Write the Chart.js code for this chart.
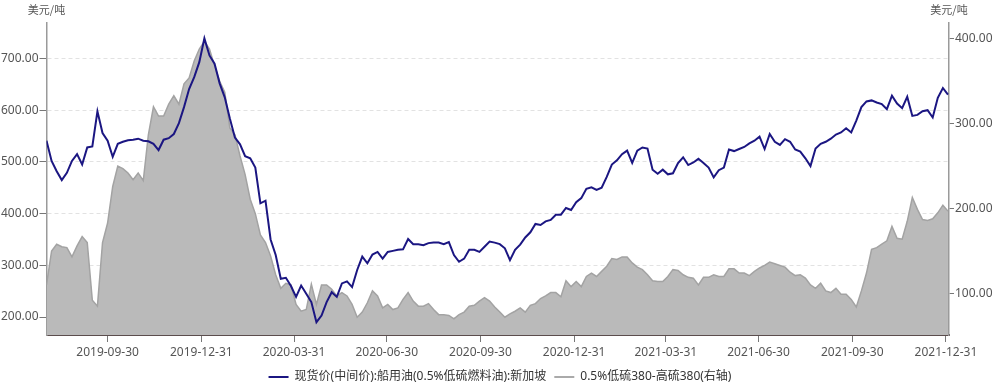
<!DOCTYPE html>
<html>
<head>
<meta charset="utf-8">
<script src="https://cdn.jsdelivr.net/npm/chart.js@4.4.0/dist/chart.umd.min.js"></script>
<style>
  html, body { margin: 0; padding: 0; background: #fff; }
  #wrap { width: 1000px; height: 385px; }
</style>
</head>
<body>
<div id="wrap"><canvas id="chart" width="1000" height="385"></canvas></div>
<script>
// dates, every 5 days
const dates = [
  '2019-08-01','2019-08-06','2019-08-11','2019-08-16','2019-08-21','2019-08-26','2019-08-31','2019-09-05','2019-09-10','2019-09-15',
  '2019-09-20','2019-09-25','2019-09-30','2019-10-05','2019-10-10','2019-10-15','2019-10-20','2019-10-25','2019-10-30','2019-11-04',
  '2019-11-09','2019-11-14','2019-11-19','2019-11-24','2019-11-29','2019-12-04','2019-12-09','2019-12-14','2019-12-19','2019-12-24',
  '2019-12-29','2020-01-03','2020-01-08','2020-01-13','2020-01-18','2020-01-23','2020-01-28','2020-02-02','2020-02-07','2020-02-12',
  '2020-02-17','2020-02-22','2020-02-27','2020-03-03','2020-03-08','2020-03-13','2020-03-18','2020-03-23','2020-03-28','2020-04-02',
  '2020-04-07','2020-04-12','2020-04-17','2020-04-22','2020-04-27','2020-05-02','2020-05-07','2020-05-12','2020-05-17','2020-05-22',
  '2020-05-27','2020-06-01','2020-06-06','2020-06-11','2020-06-16','2020-06-21','2020-06-26','2020-07-01','2020-07-06','2020-07-11',
  '2020-07-16','2020-07-21','2020-07-26','2020-07-31','2020-08-05','2020-08-10','2020-08-15','2020-08-20','2020-08-25','2020-08-30',
  '2020-09-04','2020-09-09','2020-09-14','2020-09-19','2020-09-24','2020-09-29','2020-10-04','2020-10-09','2020-10-14','2020-10-19',
  '2020-10-24','2020-10-29','2020-11-03','2020-11-08','2020-11-13','2020-11-18','2020-11-23','2020-11-28','2020-12-03','2020-12-08',
  '2020-12-13','2020-12-18','2020-12-23','2020-12-28','2021-01-02','2021-01-07','2021-01-12','2021-01-17','2021-01-22','2021-01-27',
  '2021-02-01','2021-02-06','2021-02-11','2021-02-16','2021-02-21','2021-02-26','2021-03-03','2021-03-08','2021-03-13','2021-03-18',
  '2021-03-23','2021-03-28','2021-04-02','2021-04-07','2021-04-12','2021-04-17','2021-04-22','2021-04-27','2021-05-02','2021-05-07',
  '2021-05-12','2021-05-17','2021-05-22','2021-05-27','2021-06-01','2021-06-06','2021-06-11','2021-06-16','2021-06-21','2021-06-26',
  '2021-07-01','2021-07-06','2021-07-11','2021-07-16','2021-07-21','2021-07-26','2021-07-31','2021-08-05','2021-08-10','2021-08-15',
  '2021-08-20','2021-08-25','2021-08-30','2021-09-04','2021-09-09','2021-09-14','2021-09-19','2021-09-24','2021-09-29','2021-10-04',
  '2021-10-09','2021-10-14','2021-10-19','2021-10-24','2021-10-29','2021-11-03','2021-11-08','2021-11-13','2021-11-18','2021-11-23',
  '2021-11-28','2021-12-03','2021-12-08','2021-12-13','2021-12-18','2021-12-23','2021-12-28','2022-01-02'
];

// 现货价 新加坡 0.5%低硫燃料油 (左轴)
const spotPrice = [
  541,502,482,465,479,502,515,495,528,530,
  598,556,541,510,535,539,542,543,545,541,
  540,535,523,543,546,554,575,606,641,664,
  693,739,706,690,652,625,584,547,534,511,
  507,489,420,425,350,320,274,276,260,239,
  261,245,229,190,203,229,248,239,265,269,
  258,291,317,304,321,326,313,326,328,330,
  331,351,341,341,339,343,344,344,341,345,
  320,307,313,330,330,326,336,346,344,341,
  333,310,330,340,354,364,380,378,385,388,
  398,398,411,407,422,430,448,451,446,450,
  471,495,503,515,522,498,522,528,526,485,
  477,485,476,478,498,509,494,499,506,498,
  489,470,484,489,524,521,525,529,536,541,
  549,525,554,539,533,544,539,524,520,507,
  492,526,535,539,545,553,557,565,557,580,
  606,617,619,615,612,602,628,613,604,626,
  589,591,598,600,586,624,643,630
];

// 0.5%低硫380-高硫380 价差 (右轴)
const spread = [
  110,150,158,155,154,143,156,167,160,92,
  85,160,183,226,250,247,242,234,242,233,
  287,320,309,309,323,333,323,347,354,374,
  388,397,388,368,350,337,295,287,262,240,
  211,194,169,160,144,122,106,112,110,87,
  79,81,111,87,110,110,105,97,101,97,
  87,72,78,89,103,97,83,87,81,83,
  93,101,91,85,85,88,81,75,75,74,
  70,75,78,85,86,91,95,91,84,78,
  72,76,79,83,78,86,88,94,97,101,
  101,96,115,108,114,108,120,124,120,126,
  132,141,140,143,143,136,131,128,122,115,
  114,114,120,128,127,122,119,118,110,119,
  119,122,120,120,129,129,124,124,121,126,
  130,133,137,135,133,131,125,121,122,118,
  110,106,112,103,101,106,99,99,93,84,
  103,124,152,154,158,162,179,165,164,185,
  213,199,187,186,188,195,204,197
];

const xTickDates = ['2019-09-30','2019-12-31','2020-03-31','2020-06-30','2020-09-30',
  '2020-12-31','2021-03-31','2021-06-30','2021-09-30','2021-12-31'];
const leftTicks = [200, 300, 400, 500, 600, 700];
const rightTicks = [100, 200, 300, 400];
const seriesNames = ['现货价(中间价):船用油(0.5%低硫燃料油):新加坡', '0.5%低硫380-高硫380(右轴)'];
const unitLabel = '美元/吨';

const BLUE = '#1b1682';
const GRAY_LINE = '#a3a3a3';
const GRAY_FILL = '#bababa';

Chart.defaults.font.family = '"Noto Sans", "Noto Sans CJK SC", sans-serif';
Chart.defaults.font.size = 12;
Chart.defaults.color = '#555';

const toPoints = vals => vals.map((v, i) => ({ x: Date.parse(dates[i]), y: v }));

// 轴单位
const unitPlugin = {
  id: 'unitLabels',
  afterDraw(chart) {
    const { ctx, chartArea } = chart;
    ctx.save();
    ctx.font = '11px "Noto Sans CJK SC"';
    ctx.fillStyle = '#555';
    ctx.textAlign = 'center';
    ctx.textBaseline = 'middle';
    ctx.fillText(unitLabel, chartArea.left, 10);
    ctx.fillText(unitLabel, chartArea.right, 10);
    ctx.restore();
  }
};

const legendColors = [BLUE, '#aaaaaa'];

new Chart(document.getElementById('chart').getContext('2d'), {
  type: 'line',
  data: {
    datasets: [
      {
        label: seriesNames[0],
        data: toPoints(spotPrice),
        yAxisID: 'y',
        borderColor: BLUE,
        backgroundColor: BLUE,
        borderWidth: 2,
        pointRadius: 0,
        tension: 0,
        fill: false
      },
      {
        label: seriesNames[1],
        data: toPoints(spread),
        yAxisID: 'y1',
        borderColor: GRAY_LINE,
        backgroundColor: GRAY_FILL,
        borderWidth: 1.5,
        pointRadius: 0,
        tension: 0,
        fill: 'start'
      }
    ]
  },
  options: {
    responsive: false,
    animation: false,
    layout: { padding: { top: 23, left: 0, right: 0, bottom: -8 } },
    plugins: {
      tooltip: { enabled: false },
      legend: {
        position: 'bottom',
        labels: {
          boxWidth: 20,
          boxHeight: 2,
          padding: 8,
          color: '#333',
          font: { size: 12 },
          generateLabels: chart =>
            Chart.defaults.plugins.legend.labels.generateLabels(chart).map(item => ({
              ...item,
              fillStyle: legendColors[item.datasetIndex],
              lineWidth: 0
            }))
        }
      }
    },
    scales: {
      x: {
        type: 'linear',
        min: Date.parse('2019-08-01'),
        max: Date.parse('2022-01-03'),
        afterBuildTicks: s => { s.ticks = xTickDates.map(d => ({ value: Date.parse(d) })); },
        afterFit: s => { s.height = 28; },
        ticks: {
          autoSkip: false,
          maxRotation: 0,
          padding: 3,
          color: '#555',
          callback: v => new Date(v).toISOString().slice(0, 10)
        },
        grid: { drawOnChartArea: false, tickLength: 7, tickColor: '#777' },
        border: { color: '#5b4d4d', width: 2 }
      },
      y: {
        position: 'left',
        min: 165.3,
        max: 768.7,
        afterBuildTicks: s => { s.ticks = leftTicks.map(v => ({ value: v })); },
        afterFit: s => { s.width = 46.5; },
        ticks: { padding: 1, color: '#555', callback: v => Number(v).toFixed(2) },
        grid: { color: '#e2e2e2', tickColor: '#777', tickLength: 7, tickBorderDash: [] },
        border: { color: '#9a9a9a', width: 1.5, dash: [4, 3] }
      },
      y1: {
        position: 'right',
        min: 51,
        max: 418.7,
        afterBuildTicks: s => { s.ticks = rightTicks.map(v => ({ value: v })); },
        afterFit: s => { s.width = 51; },
        ticks: { padding: 1, color: '#555', callback: v => Number(v).toFixed(2) },
        grid: { drawOnChartArea: false, tickColor: '#777', tickLength: 5 },
        border: { color: '#9a9a9a', width: 1.5 }
      }
    }
  },
  plugins: [unitPlugin]
});
</script>
</body>
</html>
